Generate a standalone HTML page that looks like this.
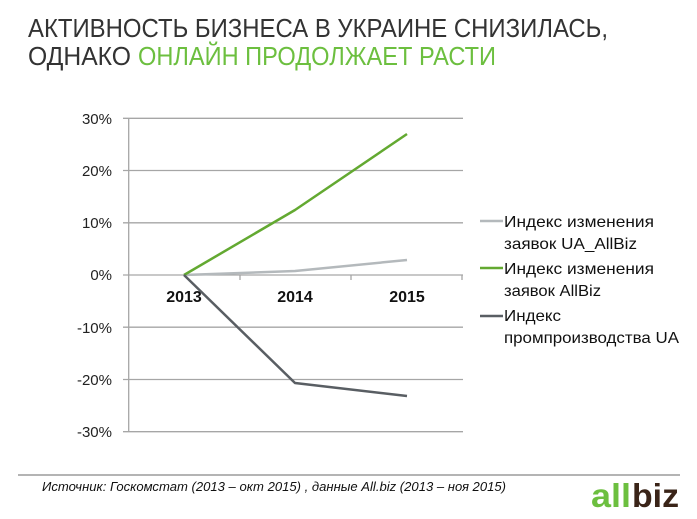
<!DOCTYPE html>
<html><head><meta charset="utf-8"><style>
html,body{margin:0;padding:0;background:#fff;}
svg{display:block;}
</style></head><body>
<svg width="697" height="519" viewBox="0 0 697 519" xmlns="http://www.w3.org/2000/svg" font-family="Liberation Sans, DejaVu Sans, sans-serif">
<text x="28" y="37" font-size="26" fill="#333" textLength="580" lengthAdjust="spacingAndGlyphs">АКТИВНОСТЬ БИЗНЕСА В УКРАИНЕ СНИЗИЛАСЬ,</text>
<text x="28" y="65" font-size="26" fill="#333" textLength="103" lengthAdjust="spacingAndGlyphs">ОДНАКО</text>
<text x="138" y="65" font-size="26" fill="#6cbf3f" textLength="358" lengthAdjust="spacingAndGlyphs">ОНЛАЙН ПРОДОЛЖАЕТ РАСТИ</text>
<g stroke="#a6a6a6" stroke-width="1.3">
<line x1="123" y1="118.3" x2="463" y2="118.3"/>
<line x1="123" y1="170.5" x2="463" y2="170.5"/>
<line x1="123" y1="222.8" x2="463" y2="222.8"/>
<line x1="123" y1="275" x2="463" y2="275"/>
<line x1="123" y1="327.2" x2="463" y2="327.2"/>
<line x1="123" y1="379.5" x2="463" y2="379.5"/>
<line x1="123" y1="431.7" x2="463" y2="431.7"/>
<line x1="128.7" y1="118" x2="128.7" y2="432"/>
<line x1="240" y1="275" x2="240" y2="280"/>
<line x1="351" y1="275" x2="351" y2="280"/>
<line x1="462" y1="275" x2="462" y2="280"/>
</g>
<g font-size="15" fill="#222" text-anchor="end">
<text x="112" y="124">30%</text>
<text x="112" y="176">20%</text>
<text x="112" y="228">10%</text>
<text x="112" y="280">0%</text>
<text x="112" y="333">-10%</text>
<text x="112" y="385">-20%</text>
<text x="112" y="437">-30%</text>
</g>
<g font-size="16" font-weight="bold" fill="#111" text-anchor="middle">
<text x="184" y="302">2013</text>
<text x="295" y="302">2014</text>
<text x="407" y="302">2015</text>
</g>
<g fill="none" stroke-width="2.5" stroke-linejoin="round">
<polyline points="184,275 295,271 407,260" stroke="#b4b9bc"/>
<polyline points="184,275 295,210 407,134" stroke="#63a931"/>
<polyline points="184,275 295,383 407,396" stroke="#595e63"/>
</g>
<g stroke-width="2.5">
<line x1="480" y1="221" x2="503" y2="221" stroke="#b4b9bc"/>
<line x1="480" y1="268" x2="503" y2="268" stroke="#63a931"/>
<line x1="480" y1="316" x2="503" y2="316" stroke="#595e63"/>
</g>
<g font-size="16" fill="#111">
<text x="504" y="227" textLength="150" lengthAdjust="spacingAndGlyphs">Индекс изменения</text>
<text x="504" y="249" textLength="133" lengthAdjust="spacingAndGlyphs">заявок UA_AllBiz</text>
<text x="504" y="274" textLength="150" lengthAdjust="spacingAndGlyphs">Индекс изменения</text>
<text x="504" y="296" textLength="97" lengthAdjust="spacingAndGlyphs">заявок AllBiz</text>
<text x="504" y="321" textLength="57" lengthAdjust="spacingAndGlyphs">Индекс</text>
<text x="504" y="343" textLength="175" lengthAdjust="spacingAndGlyphs">промпроизводства UA</text>
</g>
<line x1="18" y1="475" x2="680" y2="475" stroke="#888" stroke-width="1.2"/>
<text x="42" y="491" font-size="13" font-style="italic" fill="#111" textLength="464" lengthAdjust="spacingAndGlyphs">Источник: Госкомстат (2013 – окт 2015) , данные All.biz (2013 – ноя 2015)</text>
<text x="591" y="507" font-size="33" font-weight="bold" fill="#6cbf3f" textLength="40" lengthAdjust="spacingAndGlyphs">all</text>
<text x="632" y="507" font-size="33" font-weight="bold" fill="#3a2418" textLength="47" lengthAdjust="spacingAndGlyphs">biz</text>
</svg>
</body></html>
